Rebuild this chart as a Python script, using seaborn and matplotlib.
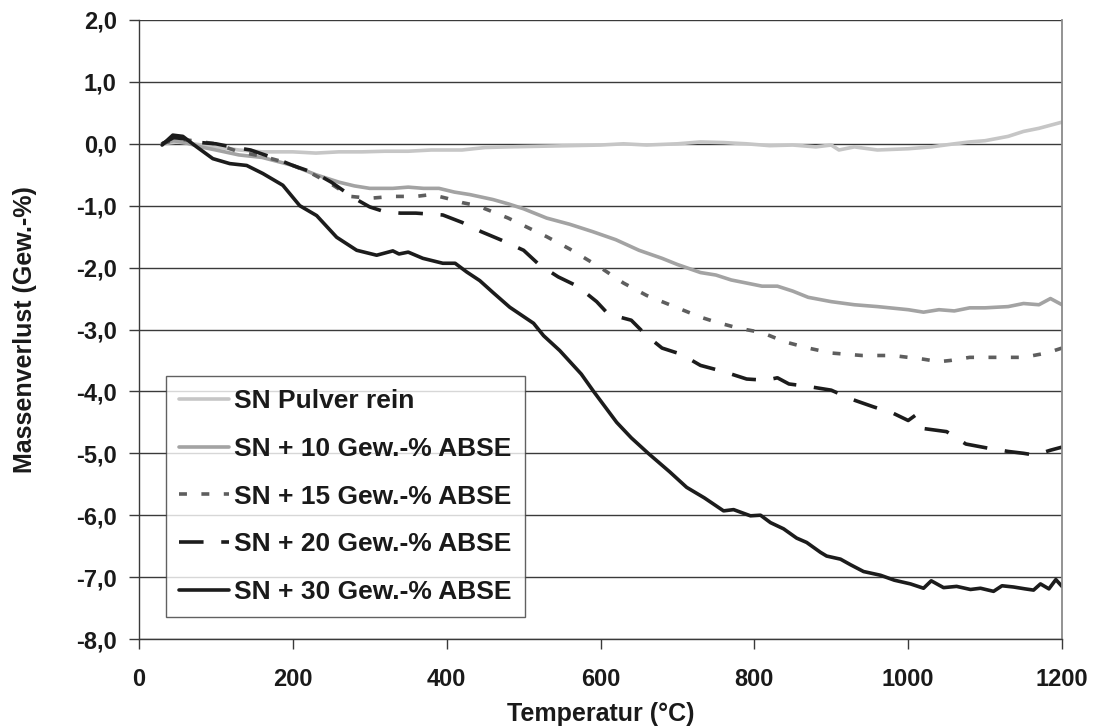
import numpy as np
import pandas as pd
import matplotlib
matplotlib.use("Agg")
import matplotlib.pyplot as plt
import seaborn as sns
from matplotlib.ticker import FuncFormatter

# ---------------- data ----------------
t_rein = [30, 50, 70, 100, 130, 160, 200, 230, 260, 290, 320, 350, 380, 420, 450, 480, 520, 560, 600, 630,
          660, 700, 730, 760, 790, 820, 850, 880, 900, 910, 930, 960, 1000, 1030, 1060, 1080, 1100, 1130, 1150, 1170, 1200]
m_rein = [0.0, 0.03, 0.0, -0.05, -0.1, -0.13, -0.13, -0.15, -0.13, -0.13, -0.12, -0.12, -0.1, -0.1, -0.06, -0.05, -0.04, -0.03, -0.02, 0.0,
          -0.02, 0.0, 0.03, 0.02, 0.0, -0.03, -0.02, -0.05, -0.02, -0.1, -0.05, -0.1, -0.08, -0.05, 0.0, 0.03, 0.05, 0.12, 0.2, 0.25, 0.35]

t_10 = [30, 45, 60, 80, 100, 130, 160, 200, 230, 260, 280, 300, 330, 350, 370, 390, 410, 430, 460, 480,
        500, 530, 560, 590, 620, 650, 680, 700, 730, 750, 770, 790, 810, 830, 850, 870, 900, 930, 960, 1000,
        1020, 1040, 1060, 1080, 1100, 1130, 1150, 1170, 1185, 1200]
m_10 = [0.0, 0.05, 0.02, -0.05, -0.1, -0.18, -0.22, -0.35, -0.5, -0.62, -0.68, -0.72, -0.72, -0.7, -0.72, -0.72, -0.78, -0.82, -0.9, -0.97,
        -1.05, -1.2, -1.3, -1.42, -1.55, -1.72, -1.85, -1.95, -2.08, -2.12, -2.2, -2.25, -2.3, -2.3, -2.38, -2.48, -2.55, -2.6, -2.63, -2.68,
        -2.72, -2.68, -2.7, -2.65, -2.65, -2.63, -2.58, -2.6, -2.5, -2.6]

t_15 = [30, 50, 70, 100, 130, 160, 190, 220, 250, 275, 300, 330, 360, 380, 400, 420, 440, 460, 480, 500,
        530, 560, 600, 630, 660, 700, 730, 750, 780, 810, 840, 870, 900, 940, 980, 1020, 1040, 1055, 1080, 1120,
        1150, 1180, 1200]
m_15 = [0.0, 0.08, 0.05, 0.0, -0.13, -0.2, -0.3, -0.45, -0.65, -0.85, -0.88, -0.85, -0.85, -0.82, -0.88, -0.95, -1.0, -1.1, -1.2, -1.32,
        -1.5, -1.7, -2.0, -2.25, -2.45, -2.65, -2.8, -2.88, -2.98, -3.05, -3.2, -3.3, -3.38, -3.42, -3.42, -3.48, -3.52, -3.5, -3.45, -3.45,
        -3.45, -3.38, -3.3]

t_20 = [30, 45, 60, 80, 100, 120, 145, 180, 200, 230, 250, 265, 280, 300, 320, 340, 360, 395, 420, 445,
        470, 500, 520, 545, 570, 595, 610, 625, 640, 660, 680, 705, 730, 760, 790, 815, 830, 845, 870, 900,
        925, 955, 980, 1000, 1010, 1020, 1050, 1075, 1105, 1130, 1150, 1165, 1185, 1200]
m_20 = [0.0, 0.1, 0.08, 0.02, 0.0, -0.05, -0.1, -0.25, -0.35, -0.48, -0.62, -0.75, -0.88, -1.02, -1.1, -1.12, -1.12, -1.15, -1.27, -1.42,
        -1.55, -1.72, -1.95, -2.15, -2.3, -2.55, -2.75, -2.8, -2.85, -3.1, -3.3, -3.4, -3.58, -3.68, -3.8, -3.82, -3.78, -3.88, -3.92, -3.98,
        -4.12, -4.25, -4.35, -4.47, -4.38, -4.6, -4.65, -4.85, -4.92, -4.97, -5.0, -5.03, -4.95, -4.9]

t_30 = [30, 44, 57, 75, 96, 118, 140, 161, 187, 209, 231, 257, 283, 309, 330, 338, 350, 369, 395, 411,
        426, 443, 460, 482, 513, 526, 547, 575, 591, 621, 640, 662, 690, 712, 735, 760, 773, 795, 808, 821,
        838, 855, 868, 886, 894, 912, 925, 942, 964, 982, 1003, 1020, 1030, 1046, 1063, 1081, 1094, 1111, 1122, 1137,
        1152, 1163, 1172, 1183, 1192, 1200]
m_30 = [-0.02, 0.14, 0.12, -0.05, -0.24, -0.32, -0.35, -0.48, -0.67, -1.0, -1.16, -1.51, -1.72, -1.8, -1.73, -1.78, -1.75, -1.85, -1.93, -1.93,
        -2.07, -2.21, -2.4, -2.64, -2.9, -3.1, -3.34, -3.72, -4.0, -4.5, -4.75, -5.0, -5.3, -5.55, -5.72, -5.93, -5.91, -6.01, -6.0, -6.12,
        -6.22, -6.37, -6.44, -6.6, -6.66, -6.71, -6.8, -6.91, -6.97, -7.05, -7.11, -7.18, -7.06, -7.17, -7.15, -7.2, -7.18, -7.23, -7.14, -7.16,
        -7.19, -7.21, -7.11, -7.19, -7.04, -7.15]

labels = ["SN Pulver rein", "SN + 10 Gew.-% ABSE", "SN + 15 Gew.-% ABSE",
          "SN + 20 Gew.-% ABSE", "SN + 30 Gew.-% ABSE"]
x_ticks = [0, 200, 400, 600, 800, 1000, 1200]
y_ticks = [-8, -7, -6, -5, -4, -3, -2, -1, 0, 1, 2]

# ---------------- style ----------------
sns.set_theme(style="white")
plt.rcParams['font.family'] = ['Liberation Sans', 'DejaVu Sans']
plt.rcParams['font.weight'] = 'bold'

fig = plt.figure(figsize=(10.94, 7.28), dpi=100)
ax = fig.add_axes([139 / 1094, 1 - 639 / 728, (1062 - 139) / 1094, (639 - 20) / 728])

series = [
    (t_rein, m_rein, "#c6c6c6", "-"),
    (t_10, m_10, "#a3a3a3", "-"),
    (t_15, m_15, "#5e5e5e", (0, (2.2, 4.0))),
    (t_20, m_20, "#1c1c1c", (0, (6.8, 4.9))),
    (t_30, m_30, "#1c1c1c", "-"),
]

for lab, (t, m, c, ls) in zip(labels, series):
    df = pd.DataFrame({"T": t, "m": m})
    sns.lineplot(data=df, x="T", y="m", ax=ax, color=c, linewidth=2.6,
                 linestyle=ls, label=lab, estimator=None, sort=False)

ax.set_xlim(0, 1200)
ax.set_ylim(-8, 2)
ax.set_xticks(x_ticks)
ax.set_yticks(y_ticks)
ax.yaxis.set_major_formatter(FuncFormatter(lambda v, p: f"{v:.1f}".replace(".", ",")))

ax.grid(axis="y", color="#3a3a3a", linewidth=1.0)
ax.grid(axis="x", visible=False)
ax.set_axisbelow(True)

ax.spines["top"].set_visible(False)
ax.spines["right"].set_color("#8a8a8a")
ax.spines["right"].set_linewidth(1.3)
ax.spines["left"].set_color("#3a3a3a")
ax.spines["bottom"].set_color("#3a3a3a")
ax.spines["left"].set_linewidth(1.0)
ax.spines["bottom"].set_linewidth(1.0)

ax.tick_params(axis="both", which="major", direction="out", length=7, width=1.0,
               color="#3a3a3a", labelsize=17, labelcolor="#1a1a1a")
ax.tick_params(axis="y", left=True, pad=9)
ax.tick_params(axis="x", bottom=True, pad=14)
for lbl in ax.get_xticklabels() + ax.get_yticklabels():
    lbl.set_fontweight("bold")

ax.set_xlabel("Temperatur (°C)", fontsize=18, fontweight="bold", color="#1a1a1a", labelpad=8)
ax.set_ylabel("Massenverlust (Gew.-%)", fontsize=18, fontweight="bold", color="#1a1a1a", labelpad=28)

leg = ax.legend(loc="lower left", bbox_to_anchor=(0.029, 0.035), frameon=True, fancybox=False,
                prop={"weight": "bold", "size": 19}, handlelength=1.9, handletextpad=0.2,
                labelspacing=0.9, borderpad=0.5, borderaxespad=0)
leg.get_frame().set_edgecolor("#3a3a3a")
leg.get_frame().set_linewidth(1.0)
for txt in leg.get_texts():
    txt.set_color("#1a1a1a")

fig.savefig("out.png", dpi=100, facecolor="white")
